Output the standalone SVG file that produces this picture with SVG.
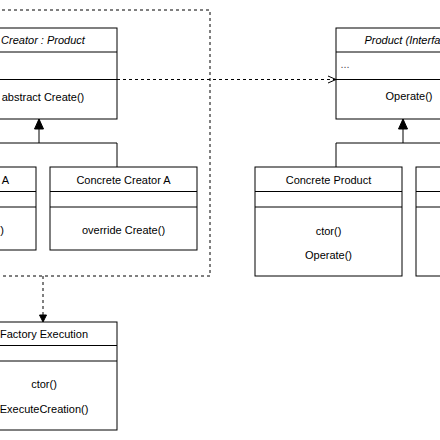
<svg xmlns="http://www.w3.org/2000/svg" width="440" height="440" viewBox="0 0 440 440">
<defs>
<style>
.box{fill:#fff;stroke:#000;stroke-width:1}
.div{stroke:#000;stroke-width:1;fill:none}
.sep{stroke:#000;stroke-width:1;fill:none}
.edge{stroke:#000;stroke-width:1;fill:none}
.dash{stroke:#000;stroke-width:1;fill:none;stroke-dasharray:3 3}
text{font-family:"Liberation Sans",Arial,sans-serif;font-size:11px;fill:#000}
.c{text-anchor:middle}
.it{font-style:italic}
</style>
<marker id="block" markerUnits="userSpaceOnUse" markerWidth="12" markerHeight="12" viewBox="0 0 12 12" refX="11" refY="6" orient="auto">
<path d="M1,1.5 L11,6 L1,10.5 Z" fill="#000" stroke="#000"/>
</marker>
<marker id="open" markerUnits="userSpaceOnUse" markerWidth="12" markerHeight="12" viewBox="0 0 12 12" refX="11" refY="6" orient="auto">
<path d="M3,2.5 L11,6 L3,9.5" fill="none" stroke="#000"/>
</marker>
<marker id="small" markerUnits="userSpaceOnUse" markerWidth="10" markerHeight="10" viewBox="0 0 10 10" refX="9" refY="5" orient="auto">
<path d="M2,1.5 L9,5 L2,8.5 Z" fill="#000" stroke="#000"/>
</marker>
</defs>

<g id="container">
<path class="dash" d="M-10,10 H210 V276 H-10"/>
</g>

<g id="creator">
<rect class="box" x="-30" y="28" width="147" height="91"/>
<line class="div" x1="-30" y1="52" x2="117" y2="52"/>
<line class="sep" x1="-30" y1="79.5" x2="117" y2="79.5"/>
<text class="c it" x="43" y="44">Creator : Product</text>
<text class="c" x="43" y="100.5">abstract Create()</text>
</g>

<g id="creator-left">
<rect class="box" x="-111" y="167" width="147" height="83"/>
<line class="div" x1="-111" y1="191.5" x2="36" y2="191.5"/>
<line class="div" x1="-111" y1="207" x2="36" y2="207"/>
<text x="9" y="184" text-anchor="end">A</text>
<text x="4" y="234" text-anchor="end">)</text>
</g>

<g id="concrete-creator-a">
<rect class="box" x="50" y="167" width="147" height="83"/>
<line class="div" x1="50" y1="191.5" x2="197" y2="191.5"/>
<line class="div" x1="50" y1="207" x2="197" y2="207"/>
<text class="c" x="123.5" y="184">Concrete Creator A</text>
<text class="c" x="123.5" y="234">override Create()</text>
</g>

<g id="factory-execution">
<rect class="box" x="-30" y="322" width="147" height="108"/>
<line class="div" x1="-30" y1="345.5" x2="117" y2="345.5"/>
<line class="div" x1="-30" y1="361" x2="117" y2="361"/>
<text class="c" x="44" y="338">Factory Execution</text>
<text class="c" x="44" y="388">ctor()</text>
<text class="c" x="44" y="413">ExecuteCreation()</text>
</g>

<g id="product">
<rect class="box" x="336" y="28" width="146" height="91"/>
<line class="div" x1="336" y1="52" x2="482" y2="52"/>
<line class="sep" x1="336" y1="79.5" x2="482" y2="79.5"/>
<text class="it" x="364.5" y="44">Product (Interfa</text>
<text x="340.5" y="67.5" fill="#555" style="fill:#555">...</text>
<text class="c" x="409" y="100">Operate()</text>
</g>

<g id="concrete-product">
<rect class="box" x="255" y="167" width="147" height="109"/>
<line class="div" x1="255" y1="191.5" x2="402" y2="191.5"/>
<line class="div" x1="255" y1="207" x2="402" y2="207"/>
<text class="c" x="328.5" y="184">Concrete Product</text>
<text class="c" x="328.5" y="234.5">ctor()</text>
<text class="c" x="328.5" y="259">Operate()</text>
</g>

<g id="product-right">
<rect class="box" x="416" y="167" width="147" height="109"/>
<line class="div" x1="416" y1="191.5" x2="563" y2="191.5"/>
<line class="div" x1="416" y1="207" x2="563" y2="207"/>
</g>

<g id="connectors">
<path class="edge" d="M-40,143 H117 V167"/>
<path class="edge" d="M39,143 V119" marker-end="url(#block)"/>
<path class="edge" d="M336,167 V143 H450"/>
<path class="edge" d="M403,143 V119" marker-end="url(#block)"/>
<path class="dash" d="M117,79.5 H336" marker-end="url(#open)"/>
<path class="dash" d="M43,276 V322" marker-end="url(#small)"/>
</g>
</svg>
